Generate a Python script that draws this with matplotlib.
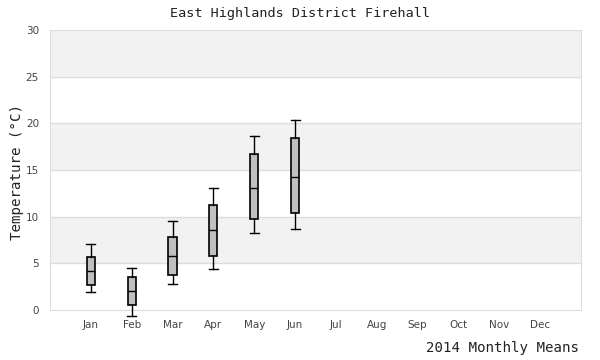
import matplotlib
matplotlib.use("Agg")
import matplotlib.pyplot as plt

months = ["Jan", "Feb", "Mar", "Apr", "May", "Jun",
          "Jul", "Aug", "Sep", "Oct", "Nov", "Dec"]
# box stats (only Jan-Jun have data)
whislo = [1.9, -0.6, 2.8, 4.4, 8.2, 8.7]
q1 = [2.7, 0.5, 3.7, 5.8, 9.8, 10.4]
med = [4.2, 2.0, 5.8, 8.6, 13.1, 14.3]
q3 = [5.7, 3.5, 7.8, 11.3, 16.7, 18.4]
whishi = [7.1, 4.5, 9.5, 13.1, 18.6, 20.4]

mono = "DejaVu Sans Mono"

fig = plt.figure(figsize=(6, 3.6), dpi=100, facecolor="white")
ax = fig.add_axes([50 / 600, 50 / 360, 531 / 600, 280 / 360])

# alternating bands
for lo in range(5, 30, 10):
    ax.axhspan(lo, lo + 5, color="#f2f2f2", zorder=0, lw=0)
for y in range(5, 30, 5):
    ax.axhline(y, color="#dddddd", lw=1, zorder=1)

stats = []
for i in range(len(med)):
    stats.append({"whislo": whislo[i], "q1": q1[i], "med": med[i],
                  "q3": q3[i], "whishi": whishi[i], "fliers": []})

bp = ax.bxp(stats, positions=list(range(1, len(med) + 1)), widths=0.2,
            capwidths=0.22, patch_artist=True, showfliers=False,
            boxprops=dict(facecolor="#c0c0c0", edgecolor="black", lw=1.2),
            medianprops=dict(color="black", lw=1),
            whiskerprops=dict(color="black", lw=1),
            capprops=dict(color="black", lw=1),
            zorder=3)
# the Feb whisker dips below zero, let it hang past the axis
for key in ("whiskers", "caps", "boxes", "medians"):
    for art in bp[key]:
        art.set_clip_on(False)

ax.set_xlim(0, 13)
ax.set_ylim(0, 30)
ax.set_xticks(range(1, 13))
ax.set_xticklabels(months)
ax.set_yticks(range(0, 31, 5))
ax.tick_params(length=0, labelsize=7.5, colors="#444444", pad=7)
ax.tick_params(axis="y", pad=8)
for s in ax.spines.values():
    s.set_color("#dddddd")

fig.text(0.5, 1 - 14 / 360, "East Highlands District Firehall",
         ha="center", va="center", family=mono, fontsize=9.7, color="#222222")
fig.text(579 / 600, 1 - 348 / 360, "2014 Monthly Means",
         ha="right", va="center", family=mono, fontsize=10.2, color="#222222")
fig.text(17 / 600, 1 - 172 / 360, "Temperature (°C)", rotation=90,
         ha="center", va="center", family=mono, fontsize=10.2, color="#222222")

fig.savefig("out.png", dpi=100, facecolor="white")
